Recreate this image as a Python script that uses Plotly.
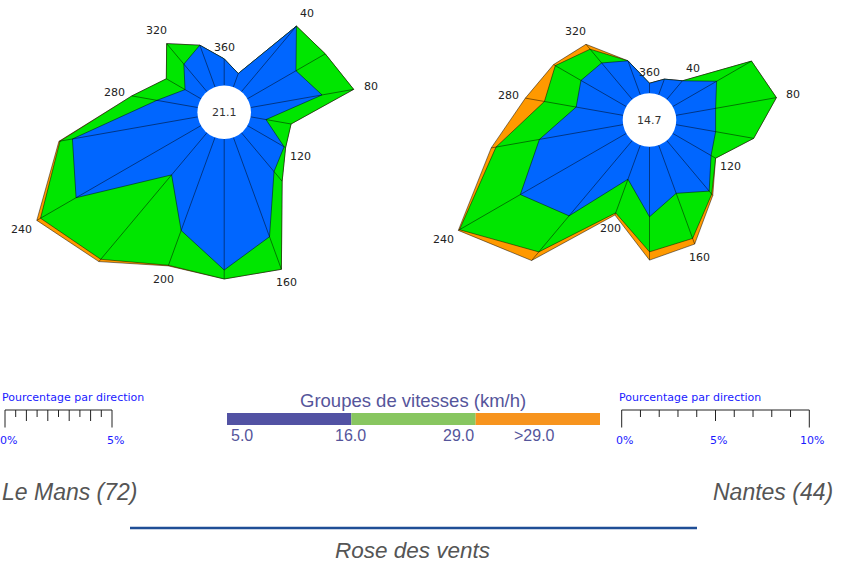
import math
import plotly.graph_objects as go

# ---------------- data ----------------
directions = [20, 40, 60, 80, 100, 120, 140, 160, 180, 200, 220, 240, 260, 280, 300, 320, 340, 360]
label_directions = [40, 80, 120, 160, 200, 240, 280, 320, 360]

lemans_name = "Le Mans (72)"
lemans_calm = 21.1
lemans_5_16 = [0.67, 4.00, 2.62, 3.39, 0.73, 1.98, 2.37, 4.94, 6.12, 4.63, 2.57, 6.74, 5.95, 1.94, 0.86, 1.68, 2.08, 1.24]
lemans_16_29 = [0.00, 0.00, 1.58, 1.50, 1.19, 0.08, 0.59, 1.62, 0.42, 1.73, 5.15, 1.92, 0.59, 1.19, 1.01, 1.25, 0.00, 0.00]
lemans_gt29 = [0.00, 0.00, 0.00, 0.00, 0.00, 0.00, 0.00, 0.00, 0.00, 0.03, 0.14, 0.20, 0.05, 0.00, 0.00, 0.00, 0.00, 0.00]

nantes_name = "Nantes (44)"
nantes_calm = 14.7
nantes_5_16 = [0.89, 1.30, 2.70, 2.15, 2.15, 2.36, 3.52, 2.73, 3.73, 1.93, 5.24, 6.52, 4.53, 2.54, 2.79, 2.54, 1.93, 0.53]
nantes_16_29 = [0.00, 0.00, 2.15, 3.29, 2.06, 0.28, 0.21, 2.56, 1.87, 1.91, 2.51, 3.75, 2.35, 1.72, 1.58, 0.96, 0.00, 0.00]
nantes_gt29 = [0.00, 0.00, 0.00, 0.00, 0.00, 0.00, 0.09, 0.32, 0.44, 0.12, 0.60, 0.07, 0.26, 1.03, 0.11, 0.34, 0.00, 0.00]

speed_labels = ["5.0", "16.0", "29.0", ">29.0"]
legend_title = "Groupes de vitesses (km/h)"
scale_title = "Pourcentage par direction"
chart_title = "Rose des vents"

# ---------------- styles / layout ----------------
W, H = 846, 562
HOLE_PX = 26.8
rose_colors = ["#0066ff", "#00e600", "#ff9900"]
legend_colors = ["#5252a3", "#88c660", "#f7941e"]
edge_color = "rgba(0,0,0,0.8)"

roses = [
    dict(name=lemans_name, calm=lemans_calm, classes=[lemans_5_16, lemans_16_29, lemans_gt29],
         cx=224.2, cy=112.2, scale=21.4, box=(0, 423, 0, 300), ax="",
         bar_x0=5.0, bar_max=5, bar_minor=0.5, bar_long=1.0, bar_labels=[0, 5],
         name_x=0, name_anchor="left"),
    dict(name=nantes_name, calm=nantes_calm, classes=[nantes_5_16, nantes_16_29, nantes_gt29],
         cx=649.5, cy=120.0, scale=18.76, box=(423, 846, 0, 300), ax="2",
         bar_x0=621.7, bar_max=10, bar_minor=1.0, bar_long=5.0, bar_labels=[0, 5, 10],
         name_x=835, name_anchor="right"),
]


def PX(px):
    return px / W


def PY(py):
    return 1 - py / H


def paper_text(px, py, text, font, xanchor="center"):
    return dict(x=PX(px), y=PY(py), xref="paper", yref="paper", text=text, showarrow=False,
                xanchor=xanchor, yanchor="middle", font=font)


fig = go.Figure()
annotations = []
shapes = []
layout_axes = {}

for rose in roses:
    s = rose["scale"]
    hole = HOLE_PX / s
    n = len(directions)
    cums = []
    run = [0.0] * n
    for cls in rose["classes"]:
        run = [a + b for a, b in zip(run, cls)]
        cums.append(run)
    theta = [math.radians(d) for d in directions]
    xa = "x" + rose["ax"]
    ya = "y" + rose["ax"]

    # filled polygons, outermost first
    for ci in reversed(range(len(cums))):
        r = [hole + c for c in cums[ci]]
        xs = [ri * math.sin(t) for ri, t in zip(r, theta)]
        ys = [ri * math.cos(t) for ri, t in zip(r, theta)]
        xs.append(xs[0])
        ys.append(ys[0])
        fig.add_trace(go.Scatter(x=xs, y=ys, mode="lines", fill="toself",
                                 fillcolor=rose_colors[ci],
                                 line=dict(color=edge_color, width=0.6),
                                 xaxis=xa, yaxis=ya, hoverinfo="skip", showlegend=False))
    # spokes
    sx, sy = [], []
    for t, outer in zip(theta, cums[-1]):
        sx += [hole * math.sin(t), (hole + outer) * math.sin(t), None]
        sy += [hole * math.cos(t), (hole + outer) * math.cos(t), None]
    fig.add_trace(go.Scatter(x=sx, y=sy, mode="lines", line=dict(color=edge_color, width=0.6),
                             xaxis=xa, yaxis=ya, hoverinfo="skip", showlegend=False))
    # calm hole
    shapes.append(dict(type="circle", xref=xa, yref=ya, x0=-hole, x1=hole, y0=-hole, y1=hole,
                       fillcolor="white", line=dict(width=0), layer="above"))
    annotations.append(dict(x=0, y=0, xref=xa, yref=ya, text=f"{rose['calm']:.1f}", showarrow=False,
                            xanchor="center", yanchor="middle",
                            font=dict(family="DejaVu Sans", size=11, color="#333333")))
    # direction labels
    for d in label_directions:
        i = directions.index(d)
        t = math.radians(d)
        off = 6 + abs(math.sin(t)) * 10.5 + abs(math.cos(t)) * 5
        r = hole + cums[-1][i] + off / s
        annotations.append(dict(x=r * math.sin(t), y=r * math.cos(t), xref=xa, yref=ya, text=str(d),
                                showarrow=False, xanchor="center", yanchor="middle",
                                font=dict(family="DejaVu Sans", size=11, color="#222222")))
    # axes
    x0, x1, y0, y1 = rose["box"]
    layout_axes["xaxis" + rose["ax"]] = dict(domain=[x0 / W, x1 / W], range=[(x0 - rose["cx"]) / s, (x1 - rose["cx"]) / s],
                                            visible=False, fixedrange=True, anchor=ya)
    layout_axes["yaxis" + rose["ax"]] = dict(domain=[1 - y1 / H, 1 - y0 / H], range=[(rose["cy"] - y1) / s, (rose["cy"] - y0) / s],
                                            visible=False, fixedrange=True, anchor=xa)

    # percentage scale bar (same px-per-% as the rose)
    bx0 = rose["bar_x0"]
    bx1 = bx0 + rose["bar_max"] * s
    line_style = dict(color="#222222", width=1)
    shapes.append(dict(type="line", xref="paper", yref="paper", x0=PX(bx0), x1=PX(bx1), y0=PY(410), y1=PY(410), line=line_style))
    for bx in (bx0, bx1):
        shapes.append(dict(type="line", xref="paper", yref="paper", x0=PX(bx), x1=PX(bx), y0=PY(410), y1=PY(427.5), line=line_style))
    k = 1
    while k * rose["bar_minor"] < rose["bar_max"] - 1e-9:
        v = k * rose["bar_minor"]
        tx = bx0 + v * s
        is_long = abs(v / rose["bar_long"] - round(v / rose["bar_long"])) < 1e-9
        shapes.append(dict(type="line", xref="paper", yref="paper", x0=PX(tx), x1=PX(tx), y0=PY(410),
                           y1=PY(421 if is_long else 417), line=line_style))
        k += 1
    blue_font = dict(family="DejaVu Sans", size=11, color="#1a1aff")
    for v in rose["bar_labels"]:
        annotations.append(paper_text(bx0 + v * s + 3, 440, f"{v}%", blue_font))
    annotations.append(paper_text(bx0 - 5, 397, scale_title, blue_font, xanchor="left"))
    # station name
    annotations.append(paper_text(rose["name_x"], 492, f"<i>{rose['name']}</i>",
                                  dict(family="Liberation Sans", size=23, color="#555555"), xanchor=rose["name_anchor"]))

# speed legend
bar_x0, bar_x1 = 227, 600
seg = (bar_x1 - bar_x0) / len(legend_colors)
for i, c in enumerate(legend_colors):
    shapes.append(dict(type="rect", xref="paper", yref="paper", x0=PX(bar_x0 + i * seg), x1=PX(bar_x0 + (i + 1) * seg),
                       y0=PY(425), y1=PY(413), fillcolor=c, line=dict(width=0)))
label_px = [242, 350, 458, 534]
legend_font = dict(family="Liberation Sans", size=16, color="#55559b")
for lab, lx in zip(speed_labels, label_px):
    annotations.append(paper_text(lx, 435, lab, legend_font))
annotations.append(paper_text(413, 400.5, legend_title, dict(family="Liberation Sans", size=18.5, color="#55559b")))

# title line + title
shapes.append(dict(type="line", xref="paper", yref="paper", x0=PX(130), x1=PX(697), y0=PY(528), y1=PY(528),
                   line=dict(color="#1f4e96", width=2.5)))
annotations.append(paper_text(412, 550, f"<i>{chart_title}</i>", dict(family="Liberation Sans", size=22.5, color="#555555")))

fig.update_layout(width=W, height=H, autosize=False, margin=dict(l=0, r=0, t=0, b=0),
                  paper_bgcolor="white", plot_bgcolor="white", showlegend=False,
                  annotations=annotations, shapes=shapes, **layout_axes)

fig.write_html("out.html", config={"displayModeBar": False, "staticPlot": True},
               post_script="document.body.style.margin='0';")
